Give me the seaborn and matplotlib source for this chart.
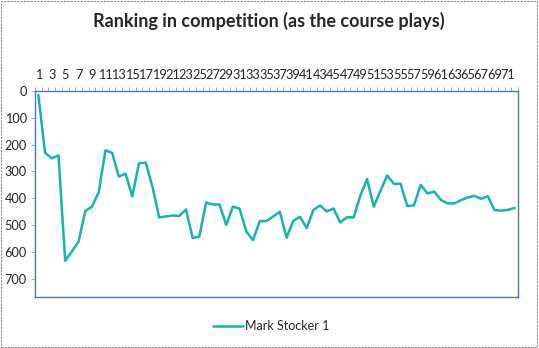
import matplotlib
matplotlib.use("Agg")
import matplotlib.pyplot as plt
import seaborn as sns
import pandas as pd
import numpy as np
from matplotlib.patches import Rectangle
from matplotlib.ticker import FixedLocator
from matplotlib.lines import Line2D

title = "Ranking in competition (as the course plays)"
series_name = "Mark Stocker 1"
rounds = list(range(1, 73))
ranking = [15, 230, 251, 240, 633, 598, 561, 447, 431, 377, 221, 231,
           319, 308, 393, 270, 267, 356, 471, 468, 464, 466, 442, 548,
           542, 416, 423, 423, 499, 431, 439, 524, 556, 485, 485, 468,
           450, 547, 484, 469, 511, 443, 427, 449, 438, 490, 471, 471,
           390, 328, 431, 372, 315, 346, 346, 429, 426, 350, 382, 375,
           406, 419, 419, 407, 397, 391, 402, 392, 444, 446, 443, 436]
y_ticks = [0, 100, 200, 300, 400, 500, 600, 700]

df = pd.DataFrame({"round": rounds, "rank": ranking, "player": series_name})

sns.set_style("white")
plt.rcParams['font.family'] = ['Lato', 'DejaVu Sans']

fig = plt.figure(figsize=(5.39, 3.48), dpi=100)
ax = fig.add_axes([35/539, 1-297/348, (518-35)/539, (297-91)/348])

color = "#17B3AE"
sns.lineplot(data=df, x="round", y="rank", hue="player", palette=[color],
             ax=ax, linewidth=1.8, legend=False)

ax.set_xlim(0.5, 72.5)
ax.set_ylim(768, 0)
ax.set_yticks(y_ticks)
ax.set_yticklabels([str(v) for v in y_ticks], fontsize=9.2)
ax.xaxis.tick_top()
ax.set_xticks(rounds[::2])
ax.set_xticklabels([str(r) for r in rounds[::2]], fontsize=9.2)
ax.xaxis.set_minor_locator(FixedLocator(np.arange(0.5, 73, 1)))
ax.tick_params(axis='x', which='major', length=0, pad=7)
ax.tick_params(axis='x', which='minor', length=3, color='#A0A0A0', width=0.6, top=True, bottom=False, direction='out')
ax.tick_params(axis='y', which='major', length=3, color='#A0A0A0', width=0.6, left=True, pad=3)
ax.set_xlabel("")
ax.set_ylabel("")

for s in ax.spines.values():
    s.set_visible(True)
    s.set_color("#4A72D0")
    s.set_linewidth(1.0)

fig.text(269/539, 1-21/348, title, ha="center", va="center", fontsize=13, fontweight="bold")

handle = Line2D([0], [0], color=color, linewidth=1.8)
fig.legend([handle], [series_name], loc="center", bbox_to_anchor=(271/539, 1-326/348),
           frameon=False, fontsize=9, handlelength=2.4, handletextpad=0.2)

fig.patches.append(Rectangle((0.002, 0.003), 0.995, 0.993, transform=fig.transFigure,
                             fill=False, edgecolor="#8C8C8C", linestyle=(0, (2, 1)), linewidth=0.8))

fig.savefig("out.png", dpi=100)
